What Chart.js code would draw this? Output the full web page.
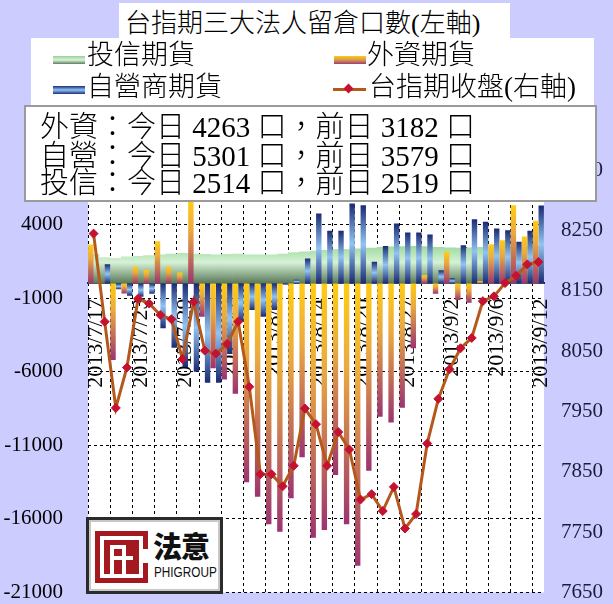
<!DOCTYPE html>
<html><head><meta charset="utf-8">
<script src="https://cdn.jsdelivr.net/npm/chart.js@4.4.0/dist/chart.umd.min.js"></script>
<style>
html,body{margin:0;padding:0;background:#CCCCFF;}
#wrap{position:relative;width:613px;height:604px;overflow:hidden;background:#CCCCFF;}
#c{position:absolute;left:0;top:0;}
.box{position:absolute;background:#fff;box-sizing:border-box;}
.t{position:absolute;font-family:"Liberation Serif","Noto Sans CJK TC",serif;font-weight:300;color:#000;white-space:nowrap;}
.sw{position:absolute;width:32px;height:8px;}
</style></head>
<body>
<div id="wrap">
  <canvas id="c" width="613" height="604"></canvas>
  <div class="box" style="left:119px;top:3px;width:391px;height:36px;">
    <div class="t" id="title" style="left:6px;top:8px;font-size:26px;line-height:26px;"></div>
  </div>
  <div class="box" style="left:31px;top:38px;width:563px;height:67px;">
    <div class="sw" style="left:22px;top:18px;background:linear-gradient(#94d294,#dcf2dc 50%,#5f7f5f);"></div>
    <div class="t" id="lg0" style="left:56px;top:3px;font-size:27px;line-height:28px;"></div>
    <div class="sw" style="left:303px;top:18px;background:linear-gradient(#ffcc14,#d89a50 50%,#a03c70);"></div>
    <div class="t" id="lg1" style="left:336px;top:3px;font-size:27px;line-height:28px;"></div>
    <div class="sw" style="left:22px;top:48px;background:linear-gradient(#1c2d78,#92c4f2 50%,#1c2d78);"></div>
    <div class="t" id="lg2" style="left:56px;top:35px;font-size:27px;line-height:28px;"></div>
    <div style="position:absolute;left:302px;top:50px;width:33px;height:3px;background:#B5581C;"></div>
    <div style="position:absolute;left:314px;top:47px;width:7px;height:7px;background:#C41230;transform:rotate(45deg);"></div>
    <div class="t" id="lg3" style="left:338px;top:35px;font-size:27px;line-height:28px;"></div>
  </div>
  <div class="box" style="left:24px;top:105px;width:573px;height:97px;border:2px solid #9a9a9a;">
    <div class="t" id="r0" style="left:14px;top:6px;font-size:29px;line-height:28px;"></div>
    <div class="t" id="r1" style="left:14px;top:35px;font-size:29px;line-height:28px;"></div>
    <div class="t" id="r2" style="left:14px;top:62px;font-size:29px;line-height:28px;"></div>
  </div>
  <div class="box" style="left:86px;top:517px;width:137px;height:77px;border:3px solid #2b2b2b;box-shadow:inset 0 0 0 2px #c8c8c8;">
    <div style="position:absolute;left:6px;top:11px;width:53px;height:52px;background:#A3191F;">
      <div style="position:absolute;left:5px;top:5px;width:43px;height:42px;background:#fff;"></div>
      <div style="position:absolute;left:9px;top:9px;width:35px;height:34px;background:#A3191F;"></div>
      <div style="position:absolute;left:15px;top:14px;width:4px;height:29px;background:#fff;"></div>
      <div style="position:absolute;left:15px;top:14px;width:14px;height:4px;background:#fff;"></div>
      <div style="position:absolute;left:15px;top:25px;width:23px;height:4px;background:#fff;"></div>
      <div style="position:absolute;left:27px;top:14px;width:4px;height:29px;background:#fff;"></div>
      <div style="position:absolute;left:44px;top:18px;width:9px;height:14px;background:#fff;"></div>
    </div>
    <div style="position:absolute;left:64px;top:9px;font-family:'Noto Sans CJK TC',sans-serif;font-weight:900;font-size:29px;line-height:32px;color:#111;letter-spacing:-1px;">法意</div>
    <div style="position:absolute;left:65px;top:45px;font-family:'Liberation Sans',sans-serif;font-size:14px;line-height:14px;color:#111;transform:scaleX(0.84);transform-origin:0 0;">PHIGROUP</div>
  </div>
</div>
<script>
const dates = ['2013/7/17','2013/7/18','2013/7/19','2013/7/22','2013/7/23','2013/7/24','2013/7/25','2013/7/26',
 '2013/7/29','2013/7/30','2013/7/31','2013/8/1','2013/8/2','2013/8/5','2013/8/6','2013/8/7','2013/8/8','2013/8/9',
 '2013/8/12','2013/8/13','2013/8/14','2013/8/15','2013/8/16','2013/8/19','2013/8/20','2013/8/22','2013/8/23',
 '2013/8/26','2013/8/27','2013/8/28','2013/8/29','2013/8/30','2013/9/2','2013/9/3','2013/9/4','2013/9/5','2013/9/6',
 '2013/9/9','2013/9/10','2013/9/11','2013/9/12'];
const trust = [1970,1750,1700,1800,1850,1900,1950,2000,2050,2000,1970,1950,1970,2000,1950,1950,1950,2000,2100,2150,
 2200,2250,2300,2300,2350,2400,2450,2480,2500,2530,2500,2450,2420,2400,2420,2450,2470,2500,2510,2519,2514];
const foreign = [2650,0,-5200,-680,1130,905,2875,1130,747,5550,-2264,-5770,-6520,-7500,-13516,-14490,-16370,-16870,
 -14600,-11820,-17280,-16760,-13020,-16370,-19180,-12730,-9060,-9443,-8450,-4400,566,-700,2150,-1130,-1315,160,
 2670,2943,5320,3182,4263];
const dealer = [0,1310,-400,-830,-900,-700,-3050,-4370,-5700,-6000,-6750,-6750,-4800,-2600,-1810,-2260,-1810,-100,
 250,1700,4750,3580,3580,5430,5320,1470,2540,4080,3460,3460,3330,900,350,2600,4370,4190,3740,3620,2830,3579,5301];
const taiex = [8245,8099,7956,8023,8137,8129,8110,8103,8037,8132,8051,8046,8062,8099,7991,7846,7846,7826,7860,7955,
 7929,7860,7916,7887,7804,7813,7785,7825,7756,7780,7897,7971,8020,8055,8072,8133,8141,8163,8175,8194,8198];
const leftTicks = [-21000,-16000,-11000,-6000,-1000,4000,9000];
const rightTicks = [7650,7750,7850,7950,8050,8150,8250,8350];
const seriesNames = ['投信期貨','外資期貨','自營商期貨','台指期收盤(右軸)'];
const titleText = '台指期三大法人留倉口數(左軸)';

document.getElementById('title').textContent = titleText;
seriesNames.forEach((n,i)=>document.getElementById('lg'+i).textContent = n);
const n = dates.length;
document.getElementById('r0').textContent = `外資：今日 ${foreign[n-1]} 口，前日 ${foreign[n-2]} 口`;
document.getElementById('r1').textContent = `自營：今日 ${dealer[n-1]} 口，前日 ${dealer[n-2]} 口`;
document.getElementById('r2').textContent = `投信：今日 ${trust[n-1]} 口，前日 ${trust[n-2]} 口`;

function barGrad(ctx, stops, solid){
  const chart = ctx.chart;
  if (!chart.chartArea || ctx.type !== 'data') return solid;
  const ys = chart.scales.y;
  const v = ctx.raw;
  const y0 = ys.getPixelForValue(0), y1 = ys.getPixelForValue(v);
  const top = Math.min(y0,y1), bot = Math.max(y0,y1);
  if (bot - top < 1) return solid;
  const g = chart.ctx.createLinearGradient(0, top, 0, bot);
  stops.forEach(s=>g.addColorStop(s[0], s[1]));
  return g;
}
function greenGrad(ctx){
  const chart = ctx.chart;
  if (!chart.chartArea) return '#bfe6bf';
  const ys = chart.scales.y;
  const g = chart.ctx.createLinearGradient(0, ys.getPixelForValue(2600), 0, ys.getPixelForValue(0));
  g.addColorStop(0, '#9bd89b');
  g.addColorStop(0.45, '#d6f1d6');
  g.addColorStop(1, '#587858');
  return g;
}
const plotBg = {id:'plotBg', beforeDraw(chart){
  const {ctx, chartArea:a} = chart; ctx.save(); ctx.fillStyle = '#fff';
  ctx.fillRect(a.left, a.top, a.width, a.height); ctx.restore(); }};

new Chart(document.getElementById('c'), {
  data: {
    labels: dates,
    datasets: [
      {type:'bar', label:seriesNames[0], data:trust, grouped:false, barPercentage:1, categoryPercentage:1,
       backgroundColor:greenGrad, order:3, yAxisID:'y'},
      {type:'bar', label:seriesNames[1], data:foreign, barPercentage:0.97, categoryPercentage:1, order:2, yAxisID:'y',
       backgroundColor:c=>barGrad(c, [[0,'#FFCC14'],[0.35,'#EAAA40'],[1,'#9C3470']], '#E0A040')},
      {type:'bar', label:seriesNames[2], data:dealer, barPercentage:0.97, categoryPercentage:1, order:2, yAxisID:'y',
       backgroundColor:c=>barGrad(c, [[0,'#1A2A74'],[0.5,'#92C4F2'],[1,'#1A2A74']], '#5577bb')},
      {type:'line', label:seriesNames[3], data:taiex, yAxisID:'y2', order:0, borderColor:'#B5581C', borderWidth:3,
       pointStyle:'rectRot', pointRadius:4.5, pointBackgroundColor:'#C41230', pointBorderColor:'#C41230',
       pointBorderWidth:1, tension:0}
    ]
  },
  options: {
    responsive:false, animation:false,
    layout:{padding:{left:0,right:0,top:151,bottom:11}},
    plugins:{legend:{display:false}, title:{display:false}, tooltip:{enabled:false}},
    scales:{
      x:{type:'category', position:{y:0}, offset:true,
         grid:{offset:true, drawTicks:false, lineWidth:1, color:c=> (c.index % 2 === 0) ? '#000' : 'rgba(0,0,0,0)'},
         border:{display:true, color:'#2a2a2a', width:2, dash:[3,3]},
         ticks:{autoSkip:false, maxRotation:90, minRotation:90, padding:15, labelOffset:3, color:'#000',
                font:{family:'Liberation Serif', size:22},
                callback:(v,i)=> i % 4 === 0 ? dates[i] : ''}},
      y:{type:'linear', position:'left', min:-21000, max:9000,
         afterBuildTicks:s=>{s.ticks = leftTicks.map(v=>({value:v}));},
         afterFit:s=>{s.width = 88;},
         grid:{drawTicks:true, tickLength:25, tickColor:'rgba(0,0,0,0)', color:'#000', lineWidth:1},
         border:{display:false, dash:[3,3]},
         ticks:{padding:0, color:'#000', font:{family:'Liberation Serif', size:21, lineHeight:1.1},
                callback:v=> v === 9000 ? '' : String(v)}},
      y2:{type:'linear', position:'right', min:7650, max:8382,
         afterBuildTicks:s=>{s.ticks = rightTicks.map(v=>({value:v}));},
         afterFit:s=>{s.width = 69;},
         grid:{display:false, drawTicks:true, tickLength:17, tickColor:'rgba(0,0,0,0)'},
         border:{display:false},
         ticks:{padding:0, color:'#1b1b3a', font:{family:'Liberation Serif', size:21, lineHeight:1.1},
                callback:v=>String(v)}}
    }
  },
  plugins:[plotBg]
});
</script>
</body></html>
